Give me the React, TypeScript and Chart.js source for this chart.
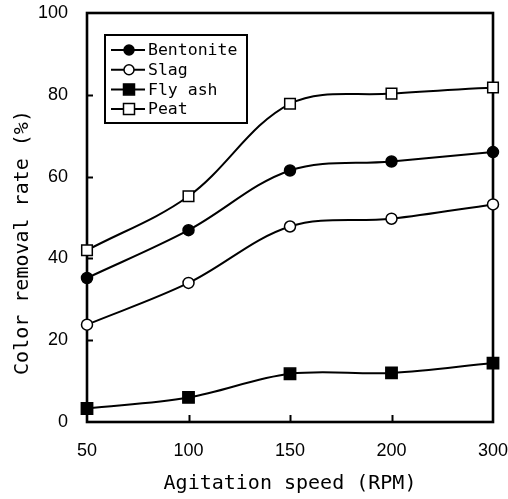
import React, { useEffect, useRef } from 'react';
import { Chart, registerables } from 'chart.js';

Chart.register(...registerables);

const speeds = ['50', '100', '150', '200', '300'];
const bentonite = [35.2, 46.9, 61.5, 63.7, 66.0];
const slag = [23.8, 34.0, 47.8, 49.7, 53.2];
const flyAsh = [3.3, 6.0, 11.8, 12.0, 14.4];
const peat = [42.0, 55.2, 77.8, 80.3, 81.8];
const seriesNames = ['Bentonite', 'Slag', 'Fly ash', 'Peat'];
const yTitle = 'Color removal rate (%)';
const xTitle = 'Agitation speed (RPM)';

const MONO = '"DejaVu Sans Mono", "Liberation Mono", monospace';
const SANS = '"Liberation Sans", Arial, sans-serif';

const framePlugin = {
  id: 'frame',
  beforeDatasetsDraw(chart: any) {
    const { ctx, chartArea: a, scales } = chart;
    ctx.save();
    ctx.strokeStyle = '#000';
    ctx.lineWidth = 2;
    const ys = scales.y;
    ys.ticks.forEach((t: any) => {
      if (t.value <= 0 || t.value >= 100) return;
      const py = Math.round(ys.getPixelForValue(t.value)) + 0.5;
      ctx.beginPath();
      ctx.moveTo(a.left, py);
      ctx.lineTo(a.left + 6, py);
      ctx.stroke();
    });
    const xs = scales.x;
    xs.ticks.forEach((_t: any, i: number) => {
      if (i === 0 || i === xs.ticks.length - 1) return;
      const px = Math.round(xs.getPixelForTick(i)) + 0.5;
      ctx.beginPath();
      ctx.moveTo(px, a.bottom);
      ctx.lineTo(px, a.bottom - 7);
      ctx.stroke();
    });
    ctx.lineWidth = 2.6;
    ctx.strokeRect(a.left, a.top, a.right - a.left, a.bottom - a.top);
    ctx.restore();
  },
};

const yTitlePlugin = {
  id: 'yTitle',
  afterDraw(chart: any) {
    const { ctx, chartArea: a } = chart;
    ctx.save();
    ctx.translate(23, (a.top + a.bottom) / 2 + 25);
    ctx.rotate(-Math.PI / 2);
    ctx.font = `20px ${MONO}`;
    ctx.fillStyle = '#000';
    ctx.textAlign = 'center';
    ctx.textBaseline = 'middle';
    ctx.fillText(yTitle, 0, 0);
    ctx.restore();
  },
};

const legendPlugin = {
  id: 'boxLegend',
  afterDraw(chart: any) {
    const { ctx, chartArea: a } = chart;
    const x0 = a.left + 18;
    const y0 = a.top + 22;
    const w = 142;
    const h = 88;
    ctx.save();
    ctx.fillStyle = '#fff';
    ctx.fillRect(x0, y0, w, h);
    ctx.lineWidth = 2;
    ctx.strokeStyle = '#000';
    ctx.strokeRect(x0, y0, w, h);
    ctx.font = `16.5px ${MONO}`;
    ctx.textBaseline = 'middle';
    ctx.textAlign = 'left';
    chart.data.datasets.forEach((ds: any, i: number) => {
      const ry = y0 + 15 + i * 19.7;
      ctx.lineWidth = 2;
      ctx.strokeStyle = '#000';
      ctx.beginPath();
      ctx.moveTo(x0 + 6, ry);
      ctx.lineTo(x0 + 40, ry);
      ctx.stroke();
      const cx = x0 + 24;
      ctx.fillStyle = ds.pointBackgroundColor;
      ctx.lineWidth = 1.5;
      ctx.beginPath();
      if (ds.pointStyle === 'circle') {
        ctx.arc(cx, ry, 5, 0, Math.PI * 2);
      } else {
        ctx.rect(cx - 5.5, ry - 5.5, 11, 11);
      }
      ctx.fill();
      ctx.stroke();
      ctx.fillStyle = '#000';
      ctx.fillText(ds.label, x0 + 43, ry + 1);
    });
    ctx.restore();
  },
};

const zeroPad = (s: any) => {
  s.paddingTop = 0;
  s.paddingBottom = 0;
  s.paddingLeft = 0;
  s.paddingRight = 0;
};

export default function App() {
  const ref = useRef<HTMLCanvasElement | null>(null);
  useEffect(() => {
    document.body.style.margin = '0';
    if (!ref.current) return;
    const mk = (label: string, data: number[], style: string, fill: string, r: number) => ({
      label,
      data,
      borderColor: '#000',
      borderWidth: 2,
      pointStyle: style,
      pointRadius: r,
      pointBackgroundColor: fill,
      pointBorderColor: '#000',
      pointBorderWidth: 1.5,
      tension: 0.35,
      clip: false as any,
    });
    const chart = new Chart(ref.current, {
      type: 'line',
      data: {
        labels: speeds,
        datasets: [
          mk(seriesNames[0], bentonite, 'circle', '#000', 5.5),
          mk(seriesNames[1], slag, 'circle', '#fff', 5.5),
          mk(seriesNames[2], flyAsh, 'rect', '#000', 8),
          mk(seriesNames[3], peat, 'rect', '#fff', 7.5),
        ],
      },
      options: {
        responsive: false,
        animation: false,
        layout: { autoPadding: false, padding: { top: 13, right: 15, left: 0, bottom: 0 } },
        plugins: { legend: { display: false }, tooltip: { enabled: false } },
        scales: {
          x: {
            type: 'category',
            offset: false,
            grid: { display: false, drawTicks: false },
            border: { display: false },
            ticks: { color: '#000', font: { family: SANS, size: 18 }, padding: 18, maxRotation: 0 },
            title: {
              display: true,
              text: xTitle,
              color: '#000',
              font: { family: MONO, size: 20 },
              padding: { top: 4, bottom: 3 },
            },
            afterFit(s: any) { s.height = 77; zeroPad(s); },
          },
          y: {
            min: 0,
            max: 100,
            grid: { display: false, drawTicks: false },
            border: { display: false },
            ticks: { stepSize: 20, color: '#000', font: { family: SANS, size: 18 }, padding: 19 },
            title: { display: false },
            afterFit(s: any) { s.width = 87; zeroPad(s); },
          },
        },
      },
      plugins: [framePlugin, legendPlugin, yTitlePlugin],
    });
    return () => chart.destroy();
  }, []);
  return <canvas ref={ref} width={508} height={499} />;
}
